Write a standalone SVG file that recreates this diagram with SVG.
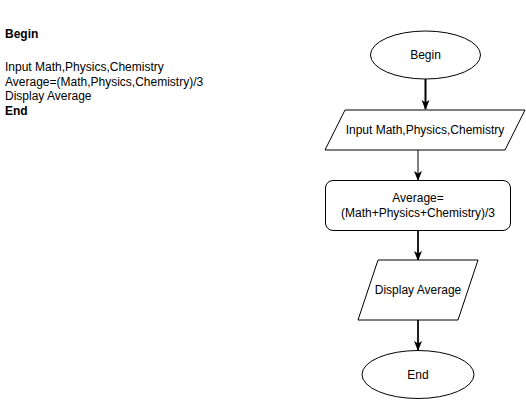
<svg xmlns="http://www.w3.org/2000/svg" width="526" height="401" viewBox="0 0 526 401">
<defs>
<style>
text{font-family:"Liberation Sans",Arial,Helvetica,sans-serif;font-size:12px;fill:#000}
.shape{fill:#fff;stroke:#000;stroke-width:1}
.c{text-anchor:middle}
.b{font-weight:bold}
.edge{fill:none;stroke-width:2}
</style>
<marker id="ah2" viewBox="0 0 10 10" refX="9" refY="5" markerWidth="10" markerHeight="10" orient="auto" markerUnits="userSpaceOnUse">
<path d="M0,1 L10,5 L0,9 L2.5,5 Z" fill="#000"/>
</marker>
</defs>
<rect width="526" height="401" fill="#fff"/>
<g id="pseudocode">
<text x="5" y="38" class="b">Begin</text>
<text x="5" y="71">Input Math,Physics,Chemistry</text>
<text x="5" y="85.5">Average=(Math,Physics,Chemistry)/3</text>
<text x="5" y="100">Display Average</text>
<text x="5" y="114.5" class="b">End</text>
</g>
<g id="connectors">
<line class="edge" x1="425.5" y1="79" x2="425.5" y2="109" stroke="#000" marker-end="url(#ah2)"/>
<line class="edge" x1="418" y1="150" x2="418" y2="180" stroke="#808080" marker-end="url(#ah2)"/>
<line class="edge" x1="418" y1="230" x2="418" y2="260" stroke="#202020" marker-end="url(#ah2)"/>
<line class="edge" x1="418" y1="320" x2="418" y2="350" stroke="#202020" marker-end="url(#ah2)"/>
</g>
<g id="begin">
<ellipse class="shape" cx="425.5" cy="55" rx="55" ry="24"/>
<text x="425.5" y="59" class="c">Begin</text>
</g>
<g id="input">
<polygon class="shape" points="345,110 525,110 505,150 325,150"/>
<text x="425" y="134" class="c">Input Math,Physics,Chemistry</text>
</g>
<g id="average">
<rect class="shape" x="325.5" y="180.5" width="185" height="50" rx="7.5"/>
<text x="418" y="202" class="c">Average=</text>
<text x="418" y="217" class="c">(Math+Physics+Chemistry)/3</text>
</g>
<g id="display">
<polygon class="shape" points="378,260 478,260 458,320 358,320"/>
<text x="418" y="294" class="c">Display Average</text>
</g>
<g id="end">
<ellipse class="shape" cx="418" cy="374.5" rx="56" ry="24"/>
<text x="418" y="378.5" class="c">End</text>
</g>
</svg>
